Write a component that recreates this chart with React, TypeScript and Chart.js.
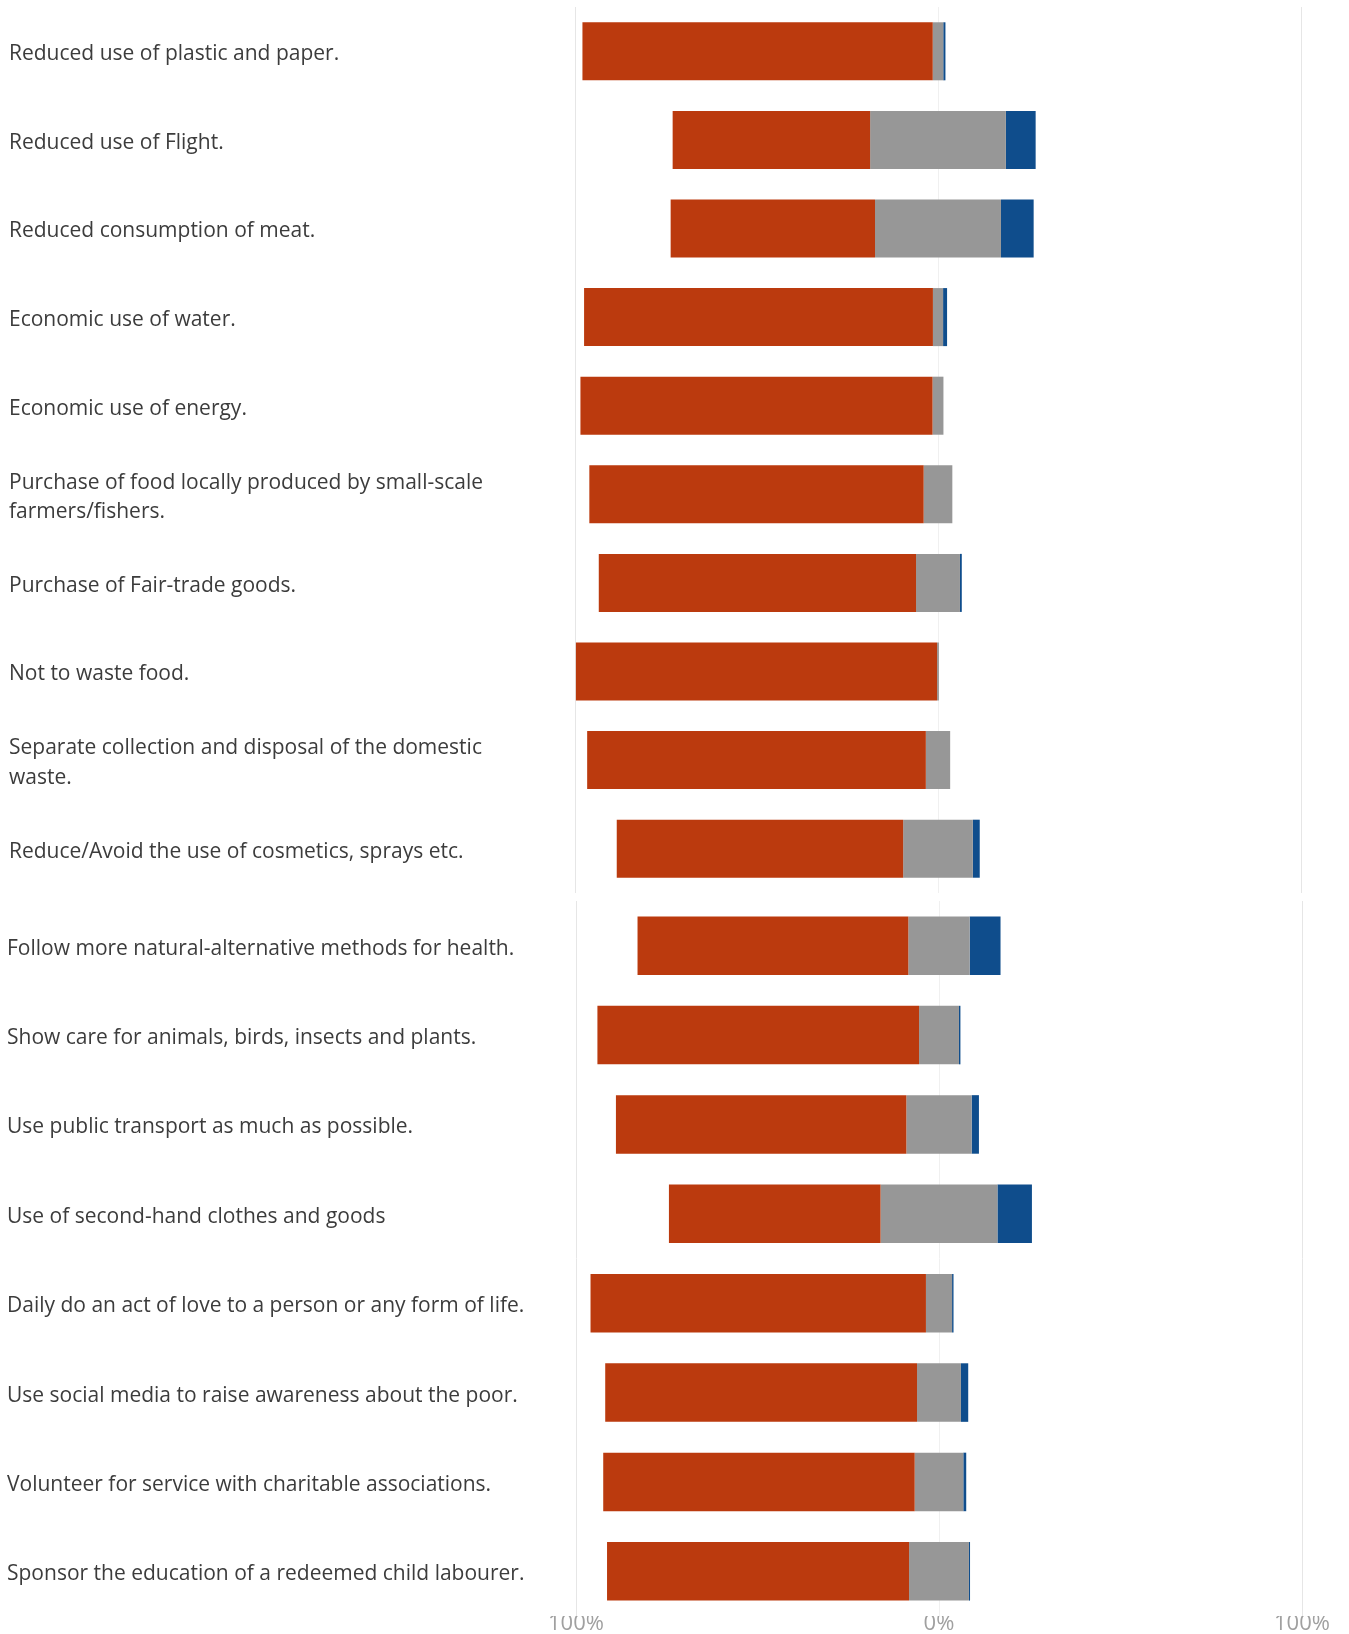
import React, { useEffect, useRef } from "react";
import { Chart, registerables } from "chart.js";

Chart.register(...registerables);

// ---- Data (percent of respondents) ----
const categoriesTop: (string | string[])[] = [
  "Reduced use of plastic and paper.",
  "Reduced use of Flight.",
  "Reduced consumption of meat.",
  "Economic use of water.",
  "Economic use of energy.",
  ["Purchase of food locally produced by small-scale", "farmers/fishers."],
  "Purchase of Fair-trade goods.",
  "Not to waste food.",
  ["Separate collection and disposal of the domestic", "waste."],
  "Reduce/Avoid the use of cosmetics, sprays etc.",
];
const agreeTop = [96.5, 54.4, 56.3, 96.1, 97.0, 92.1, 87.4, 99.5, 93.3, 78.9];
const neutralTop = [2.9, 37.4, 34.7, 2.8, 3.0, 7.9, 12.1, 0.5, 6.7, 19.2];
const disagreeTop = [0.6, 8.2, 9.0, 1.1, 0, 0, 0.5, 0, 0, 1.9];

const categoriesBottom: (string | string[])[] = [
  "Follow more natural-alternative methods for health.",
  "Show care for animals, birds, insects and plants.",
  "Use public transport as much as possible.",
  "Use of second-hand clothes and goods",
  "Daily do an act of love to a person or any form of life.",
  "Use social media to raise awareness about the poor.",
  "Volunteer for service with charitable associations.",
  "Sponsor the education of a redeemed child labourer.",
];
const agreeBottom = [74.6, 88.6, 80.0, 58.3, 92.4, 85.9, 85.8, 83.2];
const neutralBottom = [16.9, 11.0, 18.0, 32.2, 7.2, 12.1, 13.4, 16.5];
const disagreeBottom = [8.5, 0.4, 2.0, 9.5, 0.4, 2.0, 0.8, 0.3];

const xTicks = [-100, 0, 100];

const RED = "#BB3A0E";
const GRAY = "#979797";
const BLUE = "#0F4D8C";

type PanelProps = {
  labels: (string | string[])[];
  agree: number[];
  neutral: number[];
  disagree: number[];
  showTicks: boolean;
  top: number;
  height: number;
  padLeft: number;
  axisLeft: number;
  axisRight: number;
  padTop: number;
  padBottom: number;
};

function Panel(p: PanelProps) {
  const ref = useRef<HTMLCanvasElement | null>(null);
  useEffect(() => {
    if (!ref.current) return;
    const agreeBars = p.agree.map((a, i) => [-(a + p.neutral[i] / 2), -p.neutral[i] / 2]);
    const neutralBars = p.neutral.map((n) => [-n / 2, n / 2]);
    const disagreeBars = p.disagree.map((d, i) => [p.neutral[i] / 2, p.neutral[i] / 2 + d]);
    const common = {
      grouped: false,
      barPercentage: 0.655,
      categoryPercentage: 1,
      borderWidth: 0,
    };
    const chart = new Chart(ref.current, {
      type: "bar",
      data: {
        labels: p.labels,
        datasets: [
          { label: "Agree", data: agreeBars as any, backgroundColor: RED, ...common },
          { label: "Neutral", data: neutralBars as any, backgroundColor: GRAY, ...common },
          { label: "Disagree", data: disagreeBars as any, backgroundColor: BLUE, ...common },
        ],
      },
      options: {
        indexAxis: "y",
        animation: false,
        responsive: false,
        maintainAspectRatio: false,
        layout: {
          padding: { left: p.padLeft, right: 1349 - p.axisRight, top: p.padTop, bottom: p.padBottom },
        },
        plugins: { legend: { display: false }, tooltip: { enabled: false } },
        scales: {
          x: {
            min: -100,
            max: 100,
            afterBuildTicks: (scale: any) => {
              scale.ticks = xTicks.map((v) => ({ value: v }));
            },
            afterFit: (scale: any) => {
              scale.height = p.showTicks ? 18 : 0;
              scale.paddingLeft = 0;
              scale.paddingRight = 0;
            },
            border: { display: false },
            grid: {
              drawTicks: false,
              color: (ctx: any) => (ctx.tick && ctx.tick.value === 0 ? "#f0f0f0" : "#e6e6e6"),
              lineWidth: 1,
            },
            ticks: {
              display: p.showTicks,
              padding: 0,
              color: "#a0a0a0",
              font: { family: "'Open Sans', sans-serif", size: 22, lineHeight: 0.7 },
              callback: (v: any) => Math.abs(Number(v)) + "%",
            },
          },
          y: {
            afterFit: (scale: any) => {
              scale.width = p.axisLeft - p.padLeft;
              scale.paddingTop = 0;
              scale.paddingBottom = 0;
            },
            border: { display: false },
            grid: { display: false, drawTicks: false },
            ticks: {
              crossAlign: "far",
              padding: 0,
              labelOffset: 3,
              color: "#3c3c3c",
              font: { family: "'Open Sans', sans-serif", size: 21, lineHeight: 1.4 },
            },
          },
        },
      },
    });
    return () => chart.destroy();
  }, []);
  return (
    <canvas
      ref={ref}
      width={1349}
      height={p.height}
      style={{ position: "absolute", left: 0, top: p.top, width: 1349, height: p.height }}
    />
  );
}

export default function App() {
  return (
    <div style={{ position: "absolute", left: 0, top: 0, width: 1349, height: 1634, background: "#fff", overflow: "hidden" }}>
      <Panel
        labels={categoriesTop}
        agree={agreeTop}
        neutral={neutralTop}
        disagree={disagreeTop}
        showTicks={false}
        top={0}
        height={900}
        padLeft={9}
        axisLeft={575}
        axisRight={1301}
        padTop={7}
        padBottom={7}
      />
      <Panel
        labels={categoriesBottom}
        agree={agreeBottom}
        neutral={neutralBottom}
        disagree={disagreeBottom}
        showTicks={true}
        top={896}
        height={738}
        padLeft={7}
        axisLeft={576}
        axisRight={1302}
        padTop={5}
        padBottom={0}
      />
    </div>
  );
}
